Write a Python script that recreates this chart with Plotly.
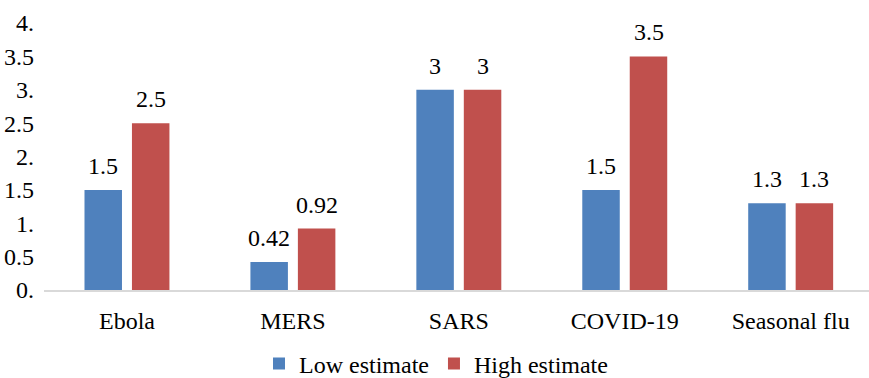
import plotly.graph_objects as go

categories = ["Ebola", "MERS", "SARS", "COVID-19", "Seasonal flu"]
low_estimate = [1.5, 0.42, 3, 1.5, 1.3]
high_estimate = [2.5, 0.92, 3, 3.5, 1.3]
low_labels = ["1.5", "0.42", "3", "1.5", "1.3"]
high_labels = ["2.5", "0.92", "3", "3.5", "1.3"]
tick_values = [0, 0.5, 1, 1.5, 2, 2.5, 3, 3.5, 4]
tick_labels = ["0.", "0.5", "1.", "1.5", "2.", "2.5", "3.", "3.5", "4."]

FONT = "Liberation Serif"
W, H = 869, 378
FS = 24

fig = go.Figure()
fig.add_trace(go.Bar(
    name="Low estimate", x=categories, y=low_estimate,
    marker=dict(color="#4F81BD", line=dict(width=0)),
))
fig.add_trace(go.Bar(
    name="High estimate", x=categories, y=high_estimate,
    marker=dict(color="#C0504D", line=dict(width=0)),
))

# value labels above each bar
for cat, v, lbl in zip(categories, low_estimate, low_labels):
    fig.add_annotation(x=cat, y=v, text=lbl, showarrow=False, xref="x", yref="y",
                       xanchor="center", yanchor="bottom", xshift=-23.75, yshift=9,
                       font=dict(family=FONT, size=FS, color="#000000"))
for cat, v, lbl in zip(categories, high_estimate, high_labels):
    fig.add_annotation(x=cat, y=v, text=lbl, showarrow=False, xref="x", yref="y",
                       xanchor="center", yanchor="bottom", xshift=23.75, yshift=9,
                       font=dict(family=FONT, size=FS, color="#000000"))

fig.update_layout(
    width=W, height=H,
    margin=dict(l=44, r=0, t=23, b=88),
    paper_bgcolor="white", plot_bgcolor="white",
    font=dict(family=FONT, size=FS, color="#000000"),
    barmode="group", bargap=0.428, bargroupgap=0.21,
    showlegend=True,
    legend=dict(
        orientation="h", xref="container", yref="container",
        x=436 / W, xanchor="center", y=1 - 364 / H, yanchor="middle",
        font=dict(family=FONT, size=FS, color="#000000"),
        itemwidth=30, tracegroupgap=0,
    ),
    xaxis=dict(
        range=[-0.5, 4.472], showline=True, linecolor="#D9D9D9", linewidth=1.5,
        showgrid=False, zeroline=False, ticks="", ticklabelstandoff=8,
        tickfont=dict(family=FONT, size=FS, color="#000000"),
    ),
    yaxis=dict(
        range=[0, 4], tickvals=tick_values, ticktext=tick_labels,
        showgrid=False, zeroline=False, showline=False, ticks="",
        ticklabelstandoff=9,
        tickfont=dict(family=FONT, size=FS, color="#000000"),
    ),
)

fig.write_html("out.html", config={"displayModeBar": False},
               post_script="document.body.style.margin='0';document.body.style.overflow='hidden';")
